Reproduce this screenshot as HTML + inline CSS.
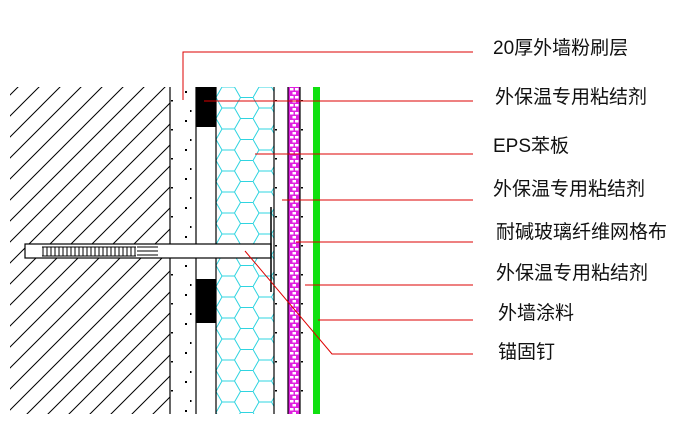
<!DOCTYPE html>
<html><head><meta charset="utf-8"><style>
body{margin:0;background:#fff;width:693px;height:428px;overflow:hidden}
text{font-family:"Liberation Sans","Noto Sans CJK SC",sans-serif;font-size:19px;fill:#111}
</style></head><body>
<svg width="693" height="428" viewBox="0 0 693 428" xmlns="http://www.w3.org/2000/svg">
<defs>
<pattern id="hatch" width="21" height="21" patternUnits="userSpaceOnUse">
<path d="M-2 23 L23 -2 M-2 2 L2 -2 M19 23 L23 19" stroke="#000" stroke-width="1"/>
</pattern>
<pattern id="hex" width="37" height="21" patternUnits="userSpaceOnUse" x="216" y="87">
<path d="M0 10.5 L6 0 L18.5 0 L24.5 10.5 L18.5 21 L6 21 Z M24.5 10.5 L37 10.5" fill="none" stroke="#2fd4e0" stroke-width="1"/>
</pattern>
<pattern id="brick" width="12" height="8" patternUnits="userSpaceOnUse" x="288" y="87">
<rect width="12" height="8" fill="#e020e0"/>
<rect x="2" y="1" width="3.5" height="2.5" fill="#fff"/><rect x="7" y="1" width="3.5" height="2.5" fill="#fff"/>
<rect x="4.5" y="5" width="3.5" height="2.5" fill="#fff"/>
</pattern>
<pattern id="dots" width="26" height="29" patternUnits="userSpaceOnUse">
<rect x="3" y="4" width="2" height="2" fill="#000"/><rect x="15" y="13" width="2" height="1.5" fill="#000"/>
<rect x="8" y="23" width="1.5" height="2" fill="#000"/>
</pattern>
</defs>
<rect x="10" y="87" width="160" height="327" fill="url(#hatch)"/>
<rect x="170" y="87" width="26" height="327" fill="url(#dots)"/>
<rect x="274" y="87" width="14" height="327" fill="url(#dots)"/>
<rect x="300" y="87" width="13" height="327" fill="url(#dots)"/>
<rect x="216" y="87" width="58" height="327" fill="url(#hex)"/>
<rect x="288" y="87" width="12" height="327" fill="url(#brick)"/>
<rect x="313" y="87" width="7" height="327" fill="#10e010"/>
<rect x="196" y="87" width="20" height="40" fill="#000"/>
<rect x="196" y="279" width="20" height="44" fill="#000"/>
<g stroke="#000" stroke-width="1.2">
<line x1="170" y1="87" x2="170" y2="414"/><line x1="196" y1="87" x2="196" y2="414"/>
<line x1="216" y1="87" x2="216" y2="414"/><line x1="274" y1="87" x2="274" y2="414"/>
<line x1="288" y1="87" x2="288" y2="414"/><line x1="300" y1="87" x2="300" y2="414"/>
</g>
<rect x="25" y="244" width="246" height="14" fill="#fff" stroke="#000" stroke-width="1.2"/>
<g stroke="#000" stroke-width="1">
<path d="M43 247 v9 M47 247 v9 M51 247 v9 M55 247 v9 M59 247 v9 M63 247 v9 M67 247 v9 M71 247 v9 M75 247 v9 M79 247 v9 M83 247 v9 M87 247 v9 M91 247 v9 M95 247 v9 M99 247 v9 M103 247 v9 M107 247 v9 M111 247 v9 M115 247 v9 M119 247 v9 M123 247 v9 M127 247 v9 M131 247 v9 M135 247 v9"/>
<path d="M42 247 H136 M42 256 H136 M137 247 H158 M137 251 H158 M137 255 H158"/>
<line x1="271" y1="207" x2="271" y2="292" stroke-width="1.5"/>
</g>
<g stroke="#d00" stroke-width="1" fill="none">
<polyline points="183,100 183,52 473,52"/>
<line x1="204" y1="101" x2="473" y2="101"/>
<line x1="255" y1="154" x2="473" y2="154"/>
<line x1="282" y1="200" x2="473" y2="200"/>
<line x1="296" y1="242" x2="473" y2="242"/>
<line x1="305" y1="285" x2="473" y2="285"/>
<line x1="318" y1="320" x2="473" y2="320"/>
<polyline points="245,251 332,354 473,354"/>
</g>
<text x="493" y="54">20厚外墙粉刷层</text>
<text x="495" y="103">外保温专用粘结剂</text>
<text x="493" y="152">EPS苯板</text>
<text x="493" y="195">外保温专用粘结剂</text>
<text x="496" y="238">耐碱玻璃纤维网格布</text>
<text x="496" y="279">外保温专用粘结剂</text>
<text x="498" y="319">外墙涂料</text>
<text x="498" y="358">锚固钉</text>
</svg>
</body></html>
